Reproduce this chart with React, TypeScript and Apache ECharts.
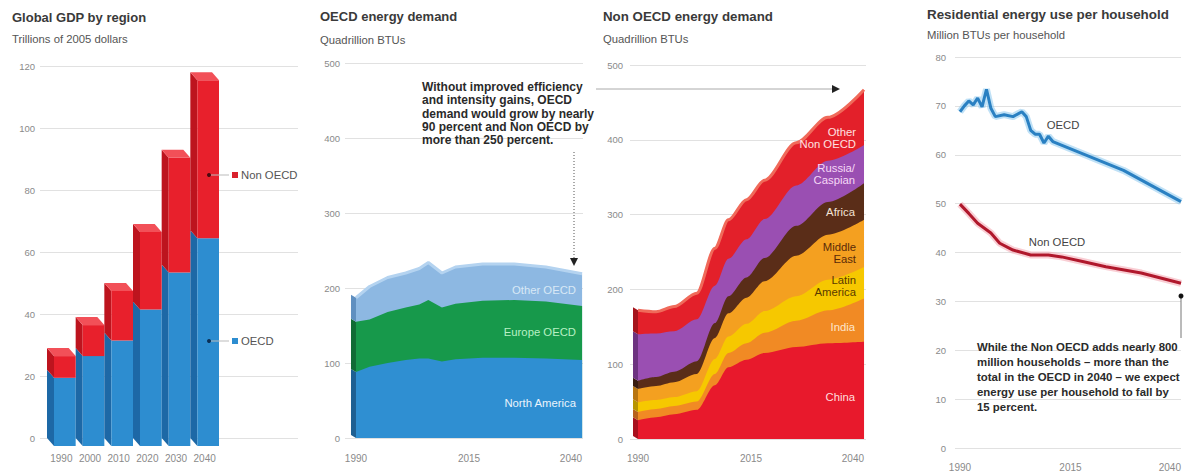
import React, { useEffect, useRef } from "react";
import * as echarts from "echarts";

// ---------- Panel 1: Global GDP by region ----------
const gdpYears = ["1990", "2000", "2010", "2020", "2030", "2040"];
const gdpOECD = [22, 29, 34, 44, 56, 67];
const gdpNonOECD = [7, 10, 16, 25, 37, 51];

// ---------- Panel 2: OECD energy demand ----------
const oecdYears = [1990, 1993, 1997, 2001, 2004, 2006, 2009, 2012, 2018, 2025, 2032, 2040];
const northAmerica = [88, 95, 100, 104, 106, 106, 102, 105, 107, 107, 106, 104];
const europeOECD = [67, 63, 68, 70, 72, 78, 72, 74, 76, 77, 76, 72];
const otherOECD = [32, 44, 46, 46, 48, 50, 46, 49, 49, 48, 46, 43];

// ---------- Panel 3: Non OECD energy demand ----------
const nonOecdYears = [1990, 1994, 1998, 2003, 2007, 2010, 2014, 2018, 2025, 2032, 2040];
const china = [25, 29, 33, 39, 72, 96, 106, 115, 123, 128, 130];
const india = [11, 11, 11, 11, 15, 19, 22, 27, 35, 44, 58];
const latinAmerica = [13, 12, 12, 14, 20, 22, 26, 29, 33, 41, 42];
const middleEast = [18, 19, 20, 23, 28, 31, 35, 40, 54, 60, 63];
const africa = [11, 12, 14, 17, 20, 23, 27, 31, 40, 44, 49];
const russiaCaspian = [62, 58, 54, 56, 50, 50, 51, 52, 54, 55, 51];
const otherNonOECD = [32, 29, 33, 35, 50, 52, 53, 52, 57, 58, 74];

// ---------- Panel 4: Residential energy use per household ----------
const resOECDYears = [1990, 1991, 1992, 1993, 1994, 1995, 1996, 1997, 1998, 2000, 2002, 2004, 2005, 2006, 2007, 2008, 2009, 2010, 2011, 2027, 2040];
const resOECD = [68.8, 70, 71, 70.2, 71.6, 69.8, 73.4, 69.5, 67.8, 68.2, 67.8, 68.8, 67.8, 65, 64.2, 64.2, 62.4, 63.8, 62.7, 56.8, 50.4];
const resNonYears = [1990, 1992, 1994, 1997, 1999, 2002, 2006, 2010, 2013, 2018, 2023, 2031, 2040];
const resNonOECD = [49.9, 48, 46, 44, 41.9, 40.5, 39.5, 39.5, 39.1, 38.1, 37.1, 35.8, 33.7];

const xLabelYears = [1990, 2015, 2040];

const FONT = '"Liberation Sans", Arial, sans-serif';
const GRID_COLOR = "#e1e1e1";
const TICK_COLOR = "#8a8a8a";

function txt(x: number, y: number, text: string, size: number, color: string, opts: any = {}) {
  return {
    type: "text",
    x,
    y,
    silent: true,
    z: 100,
    style: {
      text,
      fill: color,
      fontSize: size,
      fontFamily: FONT,
      fontWeight: opts.bold ? "bold" : "normal",
      textAlign: opts.align || "left",
      textVerticalAlign: "middle",
      lineHeight: opts.lh,
    },
  };
}

function makeBar(isTop: boolean, front: string, side: string, topC: string) {
  return (params: any, api: any) => {
    const idx = api.value(0);
    const base = api.value(1);
    const top = api.value(2);
    const pT = api.coord([idx, top]);
    const pB = api.coord([idx, base]);
    const band = api.size([1, 0])[0];
    const dx = 7;
    const dy = 8;
    const w = band - dx;
    const x0 = pT[0] - band / 2;
    const yT = pT[1];
    const yB = pB[1];
    const children: any[] = [
      { type: "polygon", shape: { points: [[x0, yT], [x0 + dx, yT + dy], [x0 + dx, yB + dy], [x0, yB]] }, style: { fill: side } },
      { type: "rect", shape: { x: x0 + dx, y: yT + dy, width: w, height: yB - yT }, style: { fill: front } },
    ];
    if (isTop) {
      children.push({ type: "polygon", shape: { points: [[x0, yT], [x0 + w, yT], [x0 + w + dx, yT + dy], [x0 + dx, yT + dy]] }, style: { fill: topC } });
    }
    return { type: "group", children };
  };
}

function valueY(gridIndex: number, max: number, interval: number, margin: number, show = true) {
  return {
    type: "value",
    gridIndex,
    min: 0,
    max,
    interval,
    show,
    axisLine: { show: false },
    axisTick: { show: false },
    axisLabel: { show, color: TICK_COLOR, fontSize: 9.5, fontFamily: FONT, margin },
    splitLine: { show, lineStyle: { color: GRID_COLOR, width: 1 } },
  };
}

function yearX(gridIndex: number, min: number, max: number, margin: number) {
  return {
    type: "value",
    gridIndex,
    min,
    max,
    axisLine: { show: false },
    axisTick: { show: false },
    splitLine: { show: false },
    axisLabel: {
      color: TICK_COLOR,
      fontSize: 10,
      fontFamily: FONT,
      margin,
      customValues: xLabelYears,
      formatter: (v: number) => String(v),
      alignMaxLabel: "right",
    },
  };
}

// Stacked areas: cumulative tops computed from the layer arrays; drawn top layer first.
function stackedAreas(gi: number, years: number[], layers: number[][], colors: string[], sideColors: string[], capColor: string, smooth: number) {
  const cum: number[][] = [];
  layers.forEach((layer, li) => {
    cum.push(layer.map((v, i) => v + (li > 0 ? cum[li - 1][i] : 0)));
  });
  const series: any[] = [];
  for (let li = layers.length - 1; li >= 0; li--) {
    const isTop = li === layers.length - 1;
    series.push({
      type: "line",
      xAxisIndex: gi,
      yAxisIndex: gi,
      symbol: "none",
      smooth,
      smoothMonotone: "x",
      data: years.map((y, i) => [y, cum[li][i]]),
      lineStyle: isTop ? { width: 3, color: capColor } : { width: 0 },
      areaStyle: { color: colors[li], opacity: 1 },
      z: 2,
    });
  }
  // 3D side face at the left edge
  series.push({
    type: "custom",
    xAxisIndex: gi,
    yAxisIndex: gi,
    z: 3,
    data: layers.map((_, li) => [years[0], li > 0 ? cum[li - 1][0] : 0, cum[li][0], li]),
    encode: { x: 0, y: [1, 2] },
    renderItem: (params: any, api: any) => {
      const pT = api.coord([api.value(0), api.value(2)]);
      const pB = api.coord([api.value(0), api.value(1)]);
      const d = 5;
      return {
        type: "polygon",
        shape: { points: [[pT[0] - d, pT[1] - 3], [pT[0], pT[1]], [pB[0], pB[1]], [pB[0] - d, pB[1] - 3]] },
        style: { fill: sideColors[api.value(3)] },
      };
    },
  });
  return series;
}

function glowLine(years: number[], vals: number[], color: string, glow: string) {
  const data = years.map((y, i) => [y, vals[i]]);
  return [
    { type: "line", xAxisIndex: 4, yAxisIndex: 4, symbol: "none", data, lineStyle: { width: 7, color: glow, opacity: 0.55 }, z: 2 },
    { type: "line", xAxisIndex: 4, yAxisIndex: 4, symbol: "none", data, lineStyle: { width: 3, color }, z: 3 },
  ];
}

export default function App() {
  const ref = useRef<HTMLDivElement>(null);
  useEffect(() => {
    if (!ref.current) return;
    const chart = echarts.init(ref.current, undefined, { renderer: "svg" });

    const graphics: any[] = [
      // titles
      txt(12, 17, "Global GDP by region", 13, "#3a3a3a", { bold: true }),
      txt(12, 39, "Trillions of 2005 dollars", 11.3, "#555"),
      txt(320, 16, "OECD energy demand", 13, "#3a3a3a", { bold: true }),
      txt(320, 40, "Quadrillion BTUs", 11.3, "#555"),
      txt(603, 16, "Non OECD energy demand", 13.3, "#3a3a3a", { bold: true }),
      txt(603, 39, "Quadrillion BTUs", 11.3, "#555"),
      txt(927, 14, "Residential energy use per household", 13.4, "#3a3a3a", { bold: true }),
      txt(927, 35, "Million BTUs per household", 11.3, "#555"),
      // panel 1 legend
      { type: "line", shape: { x1: 211, y1: 175, x2: 229, y2: 175 }, style: { stroke: "#bbb", lineWidth: 1 }, z: 99 },
      { type: "circle", shape: { cx: 209, cy: 175, r: 2 }, style: { fill: "#4a0a10" }, z: 100 },
      { type: "rect", shape: { x: 232, y: 172, width: 6, height: 6 }, style: { fill: "#d9222e" }, z: 100 },
      txt(241, 175, "Non OECD", 11.3, "#555"),
      { type: "line", shape: { x1: 211, y1: 341, x2: 229, y2: 341 }, style: { stroke: "#bbb", lineWidth: 1 }, z: 99 },
      { type: "circle", shape: { cx: 209, cy: 341, r: 2 }, style: { fill: "#0b2f55" }, z: 100 },
      { type: "rect", shape: { x: 232, y: 338, width: 6, height: 6 }, style: { fill: "#2d8dd0" }, z: 100 },
      txt(241, 341, "OECD", 11.3, "#555"),
      // panel 2 annotation
      txt(422, 113.5, "Without improved efficiency\nand intensity gains, OECD\ndemand would grow by nearly\n90 percent and Non OECD by\nmore than 250 percent.", 12, "#2a2a2a", { bold: true, lh: 13.3 }),
      { type: "line", shape: { x1: 574, y1: 152, x2: 574, y2: 258 }, style: { stroke: "#555", lineWidth: 1, lineDash: [1, 2] }, z: 100 },
      { type: "polygon", shape: { points: [[570, 258], [578, 258], [574, 266]] }, style: { fill: "#222" }, z: 100 },
      { type: "line", shape: { x1: 596, y1: 89, x2: 832, y2: 89 }, style: { stroke: "#aaa", lineWidth: 1 }, z: 100 },
      { type: "polygon", shape: { points: [[832, 85], [832, 93], [840, 89]] }, style: { fill: "#222" }, z: 100 },
      // panel 2 area labels
      txt(576, 290, "Other OECD", 11.3, "#d8e8f6", { align: "right" }),
      txt(576, 332, "Europe OECD", 11.3, "#b8f0c4", { align: "right" }),
      txt(576, 403, "North America", 11.3, "#eaf4fc", { align: "right" }),
      // panel 3 area labels
      txt(856, 137.5, "Other\nNon OECD", 11.3, "#ffe0e0", { align: "right", lh: 12 }),
      txt(855, 173.5, "Russia/\nCaspian", 11.3, "#f6d8f6", { align: "right", lh: 12 }),
      txt(855, 212, "Africa", 11.3, "#f3e3d5", { align: "right" }),
      txt(856, 252.5, "Middle\nEast", 11.3, "#5a2a08", { align: "right", lh: 12 }),
      txt(856, 285.5, "Latin\nAmerica", 11.3, "#5a3a00", { align: "right", lh: 12 }),
      txt(855, 327, "India", 11.3, "#fde6cc", { align: "right" }),
      txt(855, 397, "China", 11.3, "#ffdede", { align: "right" }),
      // panel 4 labels & annotation
      txt(1063, 125, "OECD", 11.3, "#444", { align: "center" }),
      txt(1057, 242, "Non OECD", 11.3, "#444", { align: "center" }),
      txt(977, 377, "While the Non OECD adds nearly 800\nmillion households – more than the\ntotal in the OECD in 2040 – we expect\nenergy use per household to fall by\n15 percent.", 11.4, "#2a2a2a", { bold: true, lh: 15 }),
      { type: "line", shape: { x1: 1181, y1: 298, x2: 1181, y2: 338 }, style: { stroke: "#777", lineWidth: 1 }, z: 100 },
      { type: "circle", shape: { cx: 1181, cy: 296, r: 2.5 }, style: { fill: "#111" }, z: 100 },
    ];

    const option: any = {
      animation: false,
      backgroundColor: "#ffffff",
      textStyle: { fontFamily: FONT },
      grid: [
        { left: 40, top: 66, width: 258, height: 372 },
        { left: 47, top: 66, width: 172, height: 372 },
        { left: 345, top: 63, width: 238, height: 375 },
        { left: 630, top: 65, width: 236, height: 374 },
        { left: 955, top: 57, width: 229, height: 391 },
      ],
      xAxis: [
        { type: "value", gridIndex: 0, min: 0, max: 1, show: false },
        {
          type: "category",
          gridIndex: 1,
          data: gdpYears,
          axisLine: { show: false },
          axisTick: { show: false },
          axisLabel: { color: TICK_COLOR, fontSize: 10, fontFamily: FONT, margin: 15, interval: 0 },
        },
        yearX(2, 1987.57, 2040.2, 15),
        yearX(3, 1988.23, 2040.44, 14),
        yearX(4, 1988.88, 2040, 14),
      ],
      yAxis: [
        valueY(0, 120, 20, 5),
        valueY(1, 120, 20, 5, false),
        valueY(2, 500, 100, 5),
        valueY(3, 500, 100, 7),
        valueY(4, 80, 10, 9),
      ],
      series: [
        {
          type: "custom",
          xAxisIndex: 1,
          yAxisIndex: 1,
          renderItem: makeBar(false, "#2d8dd0", "#1d68a6", "#4aa3e0"),
          data: gdpYears.map((_, i) => [i, 0, gdpOECD[i]]),
          encode: { x: 0, y: [1, 2] },
        },
        {
          type: "custom",
          xAxisIndex: 1,
          yAxisIndex: 1,
          renderItem: makeBar(true, "#e8202c", "#bd141e", "#f25058"),
          data: gdpYears.map((_, i) => [i, gdpOECD[i], gdpOECD[i] + gdpNonOECD[i]]),
          encode: { x: 0, y: [1, 2] },
        },
        ...stackedAreas(
          2,
          oecdYears,
          [northAmerica, europeOECD, otherOECD],
          ["#2f8fd2", "#17994b", "#8db8e2"],
          ["#1d5f92", "#106b35", "#5f8fc0"],
          "#b4d3f0",
          0
        ),
        ...stackedAreas(
          3,
          nonOecdYears,
          [china, india, latinAmerica, middleEast, africa, russiaCaspian, otherNonOECD],
          ["#e8192c", "#f18a24", "#f6c800", "#f4a020", "#5a2d18", "#9a4fb2", "#e3202a"],
          ["#a8101e", "#b8621a", "#b89400", "#b87510", "#3a1c0e", "#6d3380", "#a5141c"],
          "#f06a5a",
          0.3
        ),
        ...glowLine(resOECDYears, resOECD, "#2a80c2", "#8cc8ef"),
        ...glowLine(resNonYears, resNonOECD, "#b0182c", "#f4a6b0"),
      ],
      graphic: { elements: graphics },
    };

    chart.setOption(option);
    return () => chart.dispose();
  }, []);

  return (
    <div
      ref={ref}
      style={{ position: "fixed", left: 0, top: 0, width: 1184, height: 472, background: "#fff" }}
    />
  );
}
